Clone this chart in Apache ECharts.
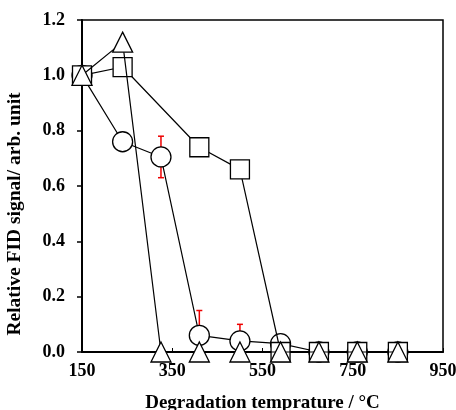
<!DOCTYPE html>
<html>
<head>
<meta charset="utf-8">
<script src="https://cdn.jsdelivr.net/npm/echarts@6/dist/echarts.min.js"></script>
<style>
  html, body { margin: 0; padding: 0; background: #fff; }
  #main { width: 456px; height: 410px; }
</style>
</head>
<body>
<div id="main"></div>
<script>
// degradation temperature (°C)
var temps = [150, 240, 325, 410, 500, 590, 675, 760, 850];
// relative FID signal, one list per marker type (null = no point)
var circleVals = [1.0, 0.76, 0.705, 0.06, 0.04, 0.03, 0, 0, 0];
var circleErr = [0, 0, 0.075, 0.09, 0.06, 0.03, 0, 0, 0];
var squareVals = [1.0, 1.03, null, 0.74, 0.66, 0, 0, 0, 0];
var triangleVals = [1.0, 1.12, 0, 0, 0, 0, 0, 0, 0];
var xTicks = [150, 350, 550, 750, 950];
var yTicks = [0, 0.2, 0.4, 0.6, 0.8, 1.0, 1.2];

function pairs(vals) {
    var out = [];
    temps.forEach(function (t, i) {
        if (vals[i] !== null) out.push([t, vals[i]]);
    });
    return out;
}

var errData = [];
temps.forEach(function (t, i) {
    if (circleErr[i] > 0) errData.push([t, circleVals[i] - circleErr[i], circleVals[i] + circleErr[i]]);
});

var font = 'Liberation Serif, Times New Roman, serif';
var myChart = echarts.init(document.getElementById('main'));

var markerStyle = { color: '#fff', borderColor: '#000', borderWidth: 1.3 };
var lineStyle = { color: '#000', width: 1.2 };

var option = {
    animation: false,
    grid: { left: 82, right: 13, top: 20, bottom: 58, outerBoundsMode: 'none',
        show: true, borderColor: '#000', borderWidth: 1.5 },
    xAxis: {
        type: 'value', min: xTicks[0], max: xTicks[xTicks.length - 1], interval: 200,
        name: 'Degradation temprature / °C', nameLocation: 'middle', nameGap: 42,
        nameTextStyle: { fontFamily: font, fontWeight: 'bold', fontSize: 19, color: '#000' },
        axisLine: { lineStyle: { color: '#000', width: 2 } },
        axisTick: { inside: true, length: 4, lineStyle: { color: '#000' } },
        axisLabel: { fontFamily: font, fontWeight: 'bold', fontSize: 18, color: '#000', margin: 10 },
        splitLine: { show: false }
    },
    yAxis: {
        type: 'value', min: yTicks[0], max: yTicks[yTicks.length - 1], interval: 0.2,
        name: 'Relative FID signal/ arb. unit', nameLocation: 'middle', nameGap: 57,
        nameTextStyle: { fontFamily: font, fontWeight: 'bold', fontSize: 19.5, color: '#000',
            padding: [0, 56, 0, 0] },
        axisLine: { lineStyle: { color: '#000', width: 2 } },
        axisTick: { length: 5, lineStyle: { color: '#000', width: 1.5 } },
        axisLabel: { fontFamily: font, fontWeight: 'bold', fontSize: 18, color: '#000', margin: 17,
            formatter: function (v) { return v.toFixed(1); } },
        splitLine: { show: false }
    },
    series: [
        {
            type: 'custom', z: 1, clip: false, data: errData,
            renderItem: function (params, api) {
                var x = api.value(0);
                var lo = api.coord([x, api.value(1)]);
                var hi = api.coord([x, api.value(2)]);
                var s = { stroke: '#e00', lineWidth: 1.5 };
                return {
                    type: 'group', children: [
                        { type: 'line', shape: { x1: lo[0], y1: lo[1], x2: hi[0], y2: hi[1] }, style: s },
                        { type: 'line', shape: { x1: hi[0] - 3, y1: hi[1], x2: hi[0] + 3, y2: hi[1] }, style: s },
                        { type: 'line', shape: { x1: lo[0] - 3, y1: lo[1], x2: lo[0] + 3, y2: lo[1] }, style: s }
                    ]
                };
            }
        },
        {
            type: 'line', z: 2, clip: false, data: pairs(circleVals),
            symbol: 'circle', symbolSize: 20, showAllSymbol: true,
            lineStyle: lineStyle, itemStyle: markerStyle
        },
        {
            type: 'line', z: 3, clip: false, data: pairs(squareVals),
            symbol: 'rect', symbolSize: 19, showAllSymbol: true,
            lineStyle: lineStyle, itemStyle: markerStyle
        },
        {
            type: 'line', z: 4, clip: false, data: pairs(triangleVals),
            symbol: 'triangle', symbolSize: [20, 20], showAllSymbol: true,
            lineStyle: lineStyle, itemStyle: markerStyle
        }
    ]
};

myChart.setOption(option);
</script>
</body>
</html>
